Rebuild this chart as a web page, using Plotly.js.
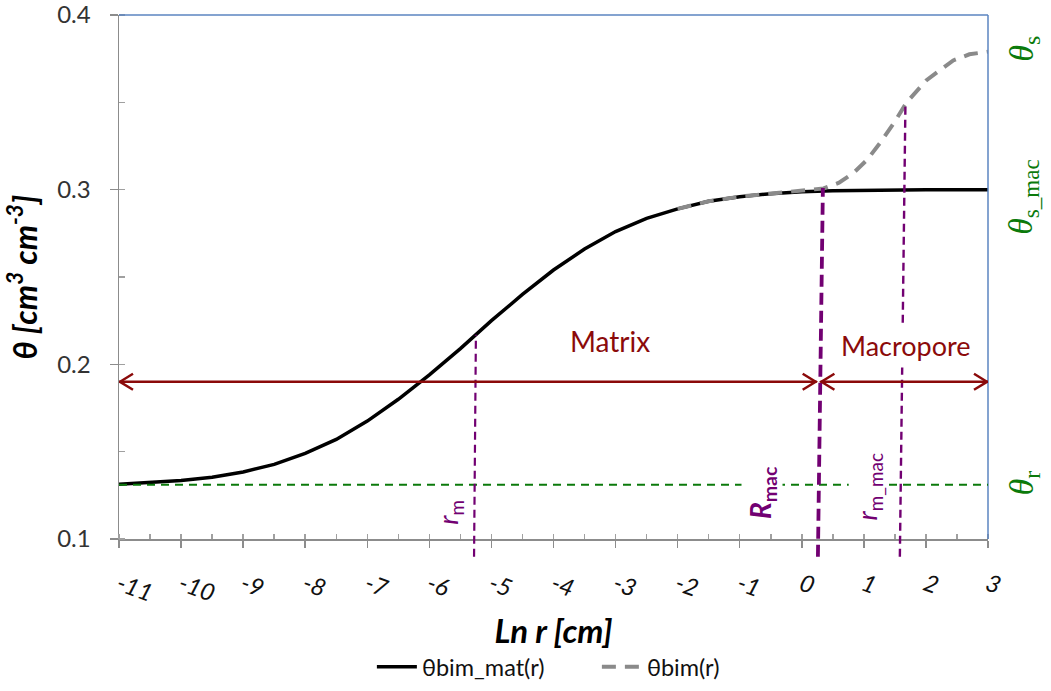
<!DOCTYPE html>
<html>
<head>
<meta charset="utf-8">
<script src="https://cdn.plot.ly/plotly-3.0.1.min.js"></script>
<style>html,body{margin:0;padding:0;background:#fff;}#chart{width:1051px;height:691px;}</style>
</head>
<body>
<div id="chart"></div>
<script>
// ---- data ----
const matX = [-11,-10.5,-10,-9.5,-9,-8.5,-8,-7.5,-7,-6.5,-6,-5.5,-5,-4.5,-4,-3.5,-3,-2.5,-2,-1.5,-1,-0.5,0,0.5,1,1.5,2,2.5,3];
const matTheta = [0.1313,0.1324,0.1335,0.1354,0.1384,0.1427,0.149,0.157,0.1675,0.18,0.194,0.209,0.225,0.240,0.254,0.266,0.276,0.2836,0.289,0.2934,0.296,0.2977,0.2988,0.2994,0.2997,0.2999,0.3,0.3,0.3];
const bimX = [-2,-1.5,-1,-0.5,0,0.35,0.6,0.83,1.05,1.26,1.5,1.69,2.01,2.25,2.44,2.7,3];
const bimTheta = [0.289,0.2934,0.296,0.2978,0.2992,0.3007,0.304,0.3095,0.317,0.3267,0.339,0.350,0.3627,0.369,0.374,0.3775,0.379];
const xTickVals = [-11,-10,-9,-8,-7,-6,-5,-4,-3,-2,-1,0,1,2,3];
const xTickText = ['-11','-10','-9','-8','-7','-6','-5','-4','-3','-2','-1','0','1','2','3'];
const yTickVals = [0.1,0.2,0.3,0.4];
const yTickText = ['0.1','0.2','0.3','0.4'];
const thetaR = 0.131;
const arrowTheta = 0.190;
const matrixArrowX = [-11, 0.24];
const macroArrowX = [0.30, 3];
// vertical markers: r_m, R_mac, r_m_mac
const markXTop = [-5.25, 0.34, 1.67];
const markXBottom = [-5.28, 0.26, 1.58];
const markThetaTop = [0.217, 0.301, 0.3496];
const seriesNames = ['θbim_mat(r)', 'θbim(r)'];

const yMin = 0.1, yMax = 0.4;
const purple = '#720072', green = '#0B7A0B', darkRed = '#8B0A0A', frame = '#5B85C0';
const FONT = 'Lato, "Open Sans", sans-serif';

const traces = [
  {x: matX, y: matTheta, type: 'scatter', mode: 'lines', name: seriesNames[0],
   line: {color: '#000', width: 3.5}},
  {x: bimX, y: bimTheta, type: 'scatter', mode: 'lines', name: seriesNames[1],
   line: {color: '#8A8A8A', width: 4, dash: '14px,9px'}}
];

const shapes = [];
// frame top & right
shapes.push({type:'line', xref:'paper', yref:'paper', x0:0, x1:1, y0:1, y1:1, line:{color:frame, width:1.5}});
shapes.push({type:'line', xref:'paper', yref:'paper', x0:1, x1:1, y0:0, y1:1, line:{color:frame, width:1.5}});
// theta_r dashed line
shapes.push({type:'line', xref:'x', yref:'y', x0:matX[0], x1:matX[matX.length-1], y0:thetaR, y1:thetaR,
  line:{color:green, width:2, dash:'8px,6px'}});
// vertical markers (paper y so they can pass below the axis)
const markStyles = [
  {width:2.2, dash:'8px,5px'},
  {width:3.8, dash:'12px,6px'},
  {width:2.4, dash:'8px,5px'}
];
for (let i = 0; i < markXTop.length; i++) {
  shapes.push({type:'line', xref:'x', yref:'paper',
    x0:markXBottom[i], x1:markXTop[i], y0:-0.034, y1:(markThetaTop[i]-yMin)/(yMax-yMin),
    line:{color:purple, width:markStyles[i].width, dash:markStyles[i].dash}});
}
// arrows
function arrow(xs) {
  shapes.push({type:'line', xref:'x', yref:'y', x0:xs[0], x1:xs[1], y0:arrowTheta, y1:arrowTheta,
    line:{color:darkRed, width:2.5}});
  shapes.push({type:'path', xref:'x', yref:'y', xsizemode:'pixel', ysizemode:'pixel',
    xanchor:xs[0], yanchor:arrowTheta, path:'M 14,8 L 1,0 L 14,-8', line:{color:darkRed, width:2.5}});
  shapes.push({type:'path', xref:'x', yref:'y', xsizemode:'pixel', ysizemode:'pixel',
    xanchor:xs[1], yanchor:arrowTheta, path:'M -14,8 L -1,0 L -14,-8', line:{color:darkRed, width:2.5}});
}
arrow(matrixArrowX);
arrow(macroArrowX);

const serif = '"Liberation Serif", serif';
const annotations = [
  {x:-3.09, y:0.2133, xref:'x', yref:'y', text:'Matrix', showarrow:false,
   font:{family:FONT, size:28, color:darkRed}},
  {x:1.68, y:0.211, xref:'x', yref:'y', text:'Macropore', showarrow:false, bgcolor:'#fff', borderpad:5,
   font:{family:FONT, size:27, color:darkRed}},
  {x:-5.67, y:0.1155, xref:'x', yref:'y', text:'<i>r</i><sub>m</sub>', showarrow:false, textangle:-90,
   font:{family:FONT, size:27, color:purple}},
  {x:-0.64, y:0.1263, xref:'x', yref:'y', text:'<b><i>R</i><sub>mac</sub></b>', showarrow:false, textangle:-90,
   bgcolor:'#fff', font:{family:FONT, size:28, color:purple}},
  {x:1.08, y:0.130, xref:'x', yref:'y', text:'<i>r</i><sub>m_mac</sub>', showarrow:false, textangle:-90,
   bgcolor:'#fff', font:{family:FONT, size:27, color:purple}},
  {x:1.041, y:0.935, xref:'paper', yref:'paper', xanchor:'center', yanchor:'middle', text:'<i>θ</i><sub>s</sub>', showarrow:false, textangle:-90,
   font:{family:serif, size:34, color:green}},
  {x:1.041, y:0.653, xref:'paper', yref:'paper', xanchor:'center', yanchor:'middle', text:'<i>θ</i><sub>s_mac</sub>', showarrow:false, textangle:-90,
   font:{family:serif, size:33, color:green}},
  {x:1.041, y:0.107, xref:'paper', yref:'paper', xanchor:'center', yanchor:'middle', text:'<i>θ</i><sub>r</sub>', showarrow:false, textangle:-90,
   font:{family:serif, size:34, color:green}}
];

const layout = {
  width: 1051, height: 691,
  margin: {l:119, r:63, t:15, b:152, autoexpand:false},
  paper_bgcolor:'#fff', plot_bgcolor:'#fff',
  showlegend: true,
  legend: {orientation:'h', x:0.291, xanchor:'left', y:-0.244, yanchor:'middle',
    entrywidth:170, entrywidthmode:'pixels', itemwidth:40, tracegroupgap:0,
    font:{family:FONT, size:23.5, color:'#111'}},
  xaxis: {range:[-11,3], tickvals:xTickVals, ticktext:xTickText, tickangle:20,
    showgrid:false, zeroline:false, showline:true, linecolor:'#8C8C8C', linewidth:1.5,
    ticks:'outside', ticklen:7, tickcolor:'#8C8C8C', tickwidth:1.5, ticklabelstandoff:14,
    minor:{ticks:'inside', dtick:0.5, tick0:-11, ticklen:5, tickcolor:'#A0A0A0', showgrid:false},
    tickfont:{family:FONT, size:24, style:'italic', color:'#111'},
    title:{text:'<b><i>Ln r [cm]</i></b>', standoff:14, font:{family:FONT, size:33, color:'#000'}},
    automargin:false},
  yaxis: {range:[yMin,yMax + 1e-6], tickvals:yTickVals, ticktext:yTickText, ticklabeloverflow:'allow',
    showgrid:false, zeroline:false, showline:true, linecolor:'#8C8C8C', linewidth:1.5,
    ticks:'outside', ticklen:8, tickcolor:'#8C8C8C', tickwidth:1.5, ticklabelstandoff:14,
    minor:{ticks:'inside', dtick:0.05, tick0:0.1, ticklen:6, tickcolor:'#A0A0A0', showgrid:false},
    tickfont:{family:FONT, size:24, color:'#333'},
    title:{text:'<b><i>θ [cm<sup>3</sup> cm<sup>-3</sup>]</i></b>', standoff:10, font:{family:FONT, size:32, color:'#000'}},
    automargin:false},
  shapes: shapes,
  annotations: annotations
};

Plotly.newPlot('chart', traces, layout, {displayModeBar:false, staticPlot:true});
</script>
</body>
</html>
